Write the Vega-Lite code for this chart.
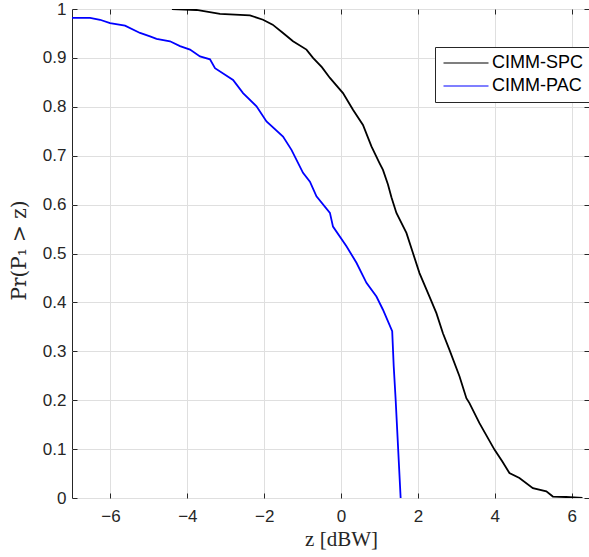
{
  "$schema": "https://vega.github.io/schema/vega-lite/v6.json",
  "width": 517,
  "height": 489,
  "autosize": {"type": "none"},
  "padding": {"left": 72, "top": 9, "right": 0, "bottom": 59},
  "background": "white",
  "config": {
    "view": {"stroke": "#262626", "strokeWidth": 1},
    "axis": {
      "domain": false,
      "tickColor": "#262626",
      "tickSize": -5,
      "tickWidth": 1,
      "labelFont": "Liberation Sans",
      "labelFontSize": 17,
      "labelColor": "#262626",
      "gridColor": "#dfdfdf",
      "gridWidth": 1,
      "titleFont": "Liberation Serif",
      "titleFontSize": 21,
      "titleFontWeight": "normal",
      "titleColor": "#262626"
    }
  },
  "data": {
    "values": [
      {"s": "CIMM-SPC", "z": -4.4, "p": 1.0},
      {"s": "CIMM-SPC", "z": -3.76, "p": 0.998},
      {"s": "CIMM-SPC", "z": -3.15, "p": 0.99},
      {"s": "CIMM-SPC", "z": -2.37, "p": 0.987},
      {"s": "CIMM-SPC", "z": -2.03, "p": 0.978},
      {"s": "CIMM-SPC", "z": -1.78, "p": 0.968},
      {"s": "CIMM-SPC", "z": -1.51, "p": 0.951},
      {"s": "CIMM-SPC", "z": -1.25, "p": 0.934},
      {"s": "CIMM-SPC", "z": -0.9, "p": 0.917},
      {"s": "CIMM-SPC", "z": -0.73, "p": 0.9},
      {"s": "CIMM-SPC", "z": -0.5, "p": 0.881},
      {"s": "CIMM-SPC", "z": -0.29, "p": 0.859},
      {"s": "CIMM-SPC", "z": 0.05, "p": 0.828},
      {"s": "CIMM-SPC", "z": 0.31, "p": 0.794},
      {"s": "CIMM-SPC", "z": 0.57, "p": 0.763},
      {"s": "CIMM-SPC", "z": 0.79, "p": 0.719},
      {"s": "CIMM-SPC", "z": 1.0, "p": 0.685},
      {"s": "CIMM-SPC", "z": 1.09, "p": 0.671},
      {"s": "CIMM-SPC", "z": 1.22, "p": 0.641},
      {"s": "CIMM-SPC", "z": 1.31, "p": 0.615},
      {"s": "CIMM-SPC", "z": 1.44, "p": 0.583},
      {"s": "CIMM-SPC", "z": 1.7, "p": 0.542},
      {"s": "CIMM-SPC", "z": 1.87, "p": 0.501},
      {"s": "CIMM-SPC", "z": 2.04, "p": 0.46},
      {"s": "CIMM-SPC", "z": 2.3, "p": 0.412},
      {"s": "CIMM-SPC", "z": 2.48, "p": 0.378},
      {"s": "CIMM-SPC", "z": 2.65, "p": 0.337},
      {"s": "CIMM-SPC", "z": 2.82, "p": 0.303},
      {"s": "CIMM-SPC", "z": 3.08, "p": 0.249},
      {"s": "CIMM-SPC", "z": 3.26, "p": 0.204},
      {"s": "CIMM-SPC", "z": 3.34, "p": 0.194},
      {"s": "CIMM-SPC", "z": 3.6, "p": 0.153},
      {"s": "CIMM-SPC", "z": 3.99, "p": 0.099},
      {"s": "CIMM-SPC", "z": 4.2, "p": 0.074},
      {"s": "CIMM-SPC", "z": 4.38, "p": 0.051},
      {"s": "CIMM-SPC", "z": 4.64, "p": 0.041},
      {"s": "CIMM-SPC", "z": 4.99, "p": 0.02},
      {"s": "CIMM-SPC", "z": 5.34, "p": 0.0135},
      {"s": "CIMM-SPC", "z": 5.51, "p": 0.003},
      {"s": "CIMM-SPC", "z": 5.85, "p": 0.002},
      {"s": "CIMM-SPC", "z": 6.28, "p": 0.0},
      {"s": "CIMM-PAC", "z": -7.0, "p": 0.982},
      {"s": "CIMM-PAC", "z": -6.53, "p": 0.982},
      {"s": "CIMM-PAC", "z": -6.27, "p": 0.978},
      {"s": "CIMM-PAC", "z": -6.01, "p": 0.971},
      {"s": "CIMM-PAC", "z": -5.62, "p": 0.966},
      {"s": "CIMM-PAC", "z": -5.23, "p": 0.951},
      {"s": "CIMM-PAC", "z": -4.97, "p": 0.944},
      {"s": "CIMM-PAC", "z": -4.8, "p": 0.939},
      {"s": "CIMM-PAC", "z": -4.45, "p": 0.934},
      {"s": "CIMM-PAC", "z": -4.19, "p": 0.924},
      {"s": "CIMM-PAC", "z": -3.93, "p": 0.917},
      {"s": "CIMM-PAC", "z": -3.67, "p": 0.903},
      {"s": "CIMM-PAC", "z": -3.41, "p": 0.897},
      {"s": "CIMM-PAC", "z": -3.28, "p": 0.879},
      {"s": "CIMM-PAC", "z": -2.81, "p": 0.855},
      {"s": "CIMM-PAC", "z": -2.55, "p": 0.828},
      {"s": "CIMM-PAC", "z": -2.2, "p": 0.801},
      {"s": "CIMM-PAC", "z": -1.94, "p": 0.77},
      {"s": "CIMM-PAC", "z": -1.51, "p": 0.739},
      {"s": "CIMM-PAC", "z": -1.29, "p": 0.712},
      {"s": "CIMM-PAC", "z": -0.99, "p": 0.665},
      {"s": "CIMM-PAC", "z": -0.81, "p": 0.647},
      {"s": "CIMM-PAC", "z": -0.64, "p": 0.617},
      {"s": "CIMM-PAC", "z": -0.29, "p": 0.583},
      {"s": "CIMM-PAC", "z": -0.21, "p": 0.555},
      {"s": "CIMM-PAC", "z": 0.14, "p": 0.515},
      {"s": "CIMM-PAC", "z": 0.4, "p": 0.481},
      {"s": "CIMM-PAC", "z": 0.66, "p": 0.44},
      {"s": "CIMM-PAC", "z": 0.92, "p": 0.412},
      {"s": "CIMM-PAC", "z": 1.09, "p": 0.385},
      {"s": "CIMM-PAC", "z": 1.33, "p": 0.341},
      {"s": "CIMM-PAC", "z": 1.37, "p": 0.269},
      {"s": "CIMM-PAC", "z": 1.42, "p": 0.201},
      {"s": "CIMM-PAC", "z": 1.55, "p": 0.0}
    ]
  },
  "layer": [
    {
      "mark": {"type": "line", "strokeWidth": 1.8, "clip": true},
      "encoding": {
        "x": {
          "field": "z", "type": "quantitative",
          "scale": {"domain": [-7, 6.45], "nice": false, "zero": false},
          "axis": {
            "orient": "bottom",
            "values": [-6, -4, -2, 0, 2, 4, 6],
            "labelPadding": 15,
            "title": "z [dBW]",
            "titleX": 269,
            "titleY": 47,
            "titleBaseline": "alphabetic",
            "titleAlign": "center"
          }
        },
        "y": {
          "field": "p", "type": "quantitative",
          "scale": {"domain": [0, 1], "nice": false, "zero": false},
          "axis": {
            "orient": "left",
            "values": [0, 0.1, 0.2, 0.3, 0.4, 0.5, 0.6, 0.7, 0.8, 0.9, 1],
            "format": "~g",
            "labelPadding": 11,
            "title": "Pr(P₁ > z)",
            "titleFont": "DejaVu Serif",
            "titleFontSize": 20,
            "titleX": -47,
            "titleY": 241,
            "titleBaseline": "alphabetic",
            "titleAlign": "center",
            "titleAngle": 270
          }
        },
        "color": {
          "field": "s", "type": "nominal",
          "scale": {"domain": ["CIMM-SPC", "CIMM-PAC"], "range": ["#000000", "#0000ff"]},
          "legend": {
            "orient": "none",
            "legendX": 363,
            "legendY": 38,
            "title": null,
            "symbolType": "M-3,0H3",
            "symbolSize": 225,
            "symbolStrokeWidth": 1.2,
            "symbolOffset": 15,
            "labelOffset": 17,
            "labelFont": "Liberation Sans",
            "labelFontSize": 18,
            "labelColor": "#000000",
            "strokeColor": "#262626",
            "fillColor": "white",
            "padding": 7,
            "rowPadding": 5
          }
        }
      }
    },
    {
      "mark": {"type": "point", "opacity": 0},
      "encoding": {
        "x": {
          "field": "z", "type": "quantitative",
          "axis": {"orient": "top", "values": [-6, -4, -2, 0, 2, 4, 6], "labels": false, "grid": false, "title": null}
        },
        "y": {
          "field": "p", "type": "quantitative",
          "axis": {"orient": "right", "values": [0, 0.1, 0.2, 0.3, 0.4, 0.5, 0.6, 0.7, 0.8, 0.9, 1], "labels": false, "grid": false, "title": null}
        }
      }
    }
  ],
  "resolve": {"axis": {"x": "independent", "y": "independent"}}
}
